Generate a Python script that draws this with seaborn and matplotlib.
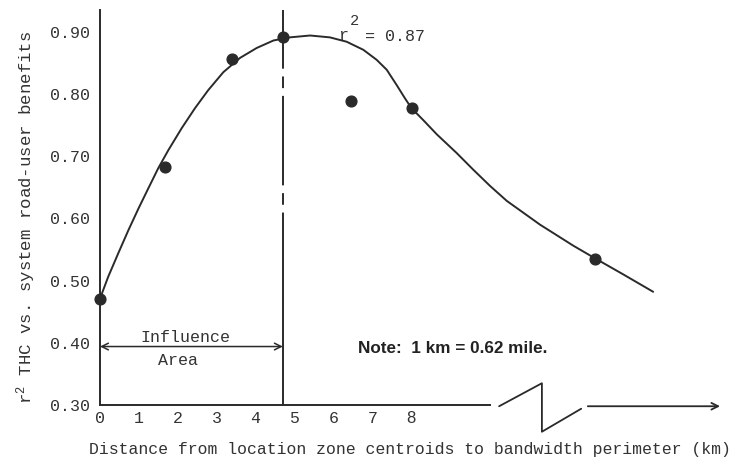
import numpy as np
import pandas as pd
import matplotlib
matplotlib.use('Agg')
import matplotlib.pyplot as plt
import seaborn as sns

# observed points (km, r^2)
dist_km = [0.0, 1.67, 3.40, 4.70, 6.45, 8.01, 12.72]
r2_obs = [0.470, 0.682, 0.857, 0.891, 0.789, 0.777, 0.534]

# fitted curve
curve_km = [0.0, 0.21, 0.47, 0.73, 0.99, 1.24, 1.50, 1.76, 2.10, 2.44, 2.78,
            3.17, 3.60, 4.03, 4.46, 4.88, 5.40, 5.91, 6.34, 6.77, 7.11, 7.37,
            7.63, 7.84, 8.01, 8.31, 8.66, 9.17, 9.60, 10.03, 10.46, 11.31,
            12.17, 12.72, 13.45, 14.22]
curve_r2 = [0.471, 0.506, 0.544, 0.581, 0.616, 0.648, 0.681, 0.710, 0.745,
            0.777, 0.806, 0.835, 0.858, 0.874, 0.886, 0.891, 0.894, 0.891,
            0.884, 0.871, 0.855, 0.839, 0.814, 0.793, 0.777, 0.758, 0.735,
            0.705, 0.678, 0.652, 0.628, 0.590, 0.556, 0.536, 0.510, 0.482]

influence_km = 4.70
x_ticks = [0, 1, 2, 3, 4, 5, 6, 7, 8]
y_ticks = [0.30, 0.40, 0.50, 0.60, 0.70, 0.80, 0.90]

# axis break (zigzag) and the continuing arrow
axis_end_km = 10.03
break_x = [10.26, 11.36, 11.36, 12.37]
break_y = [0.298, 0.335, 0.257, 0.294]
arrow_x = [12.54, 15.94]

ink = '#2a2a2a'
txt = '#333333'
mono = 'Liberation Mono'

sns.set_style('white')
plt.rcParams['font.family'] = [mono, 'DejaVu Sans']
plt.rcParams['mathtext.fontset'] = 'custom'
plt.rcParams['mathtext.rm'] = mono

fig = plt.figure(figsize=(7.47, 4.59), dpi=100)
ax = fig.add_axes([100 / 747, 54 / 459, 630 / 747, 395 / 459])

obs = pd.DataFrame({'km': dist_km, 'r2': r2_obs})
fit = pd.DataFrame({'km': curve_km, 'r2': curve_r2})

sns.lineplot(data=fit, x='km', y='r2', color=ink, linewidth=1.4, sort=False, ax=ax)
sns.scatterplot(data=obs, x='km', y='r2', color=ink, s=60, edgecolor=ink,
                linewidth=1, ax=ax, zorder=5, clip_on=False)

ax.set_xlim(0, 630 / 38.9)
ax.set_ylim(0.30, 0.935)

# influence boundary: solid, dash-dot, solid
ax.plot([influence_km, influence_km], [0.875, 0.935], color=ink, lw=1.4)
ax.plot([influence_km, influence_km], [0.465, 0.875], color=ink, lw=1.4,
        dashes=(46, 4, 6, 4))
ax.plot([influence_km, influence_km], [0.30, 0.465], color=ink, lw=1.4)

ax.annotate('', xy=(0, 0.394), xytext=(influence_km, 0.394),
            arrowprops=dict(arrowstyle='<->', color=ink, lw=1.1,
                            shrinkA=0, shrinkB=0, mutation_scale=12))
ax.text(2.19, 0.396, 'Influence', ha='center', va='bottom', fontsize=12, color=txt)
ax.text(2.0, 0.371, 'Area', ha='center', va='center', fontsize=12, color=txt)

ax.text(6.12, 0.8868, 'r', ha='left', va='baseline', fontsize=12, color=txt)
ax.text(6.43, 0.911, '2', ha='left', va='baseline', fontsize=11, color=txt)
ax.text(6.81, 0.885, '= 0.87', ha='left', va='baseline', fontsize=12, color=txt)

ax.text(6.63, 0.3916, 'Note:  1 km = 0.62 mile.', ha='left', va='center',
        fontsize=12.3, fontweight='bold', family=['Liberation Sans', 'DejaVu Sans'],
        color='#222222')

# spines
for side in ['top', 'right']:
    ax.spines[side].set_visible(False)
for side in ['left', 'bottom']:
    ax.spines[side].set_color(ink)
    ax.spines[side].set_linewidth(1.4)
ax.spines['bottom'].set_bounds(0, axis_end_km)

ax.plot(break_x, break_y, color=ink, lw=1.3, clip_on=False)
ax.annotate('', xy=(arrow_x[1], 0.298), xytext=(arrow_x[0], 0.298),
            annotation_clip=False,
            arrowprops=dict(arrowstyle='->', color=ink, lw=1.3,
                            shrinkA=0, shrinkB=0, mutation_scale=12))

ax.set_xticks(x_ticks)
ax.set_yticks(y_ticks)
ax.set_yticklabels([f'{v:.2f}' for v in y_ticks])
ax.tick_params(axis='both', direction='out', length=3.6, width=1.1, colors=ink,
               labelcolor=txt, labelsize=12)
ax.tick_params(axis='x', pad=0.8)
ax.tick_params(axis='y', pad=3.5)
ax.get_xticklabels()[8].set_family(['Liberation Sans', 'DejaVu Sans'])

ax.set_xlabel('Distance from location zone centroids to bandwidth perimeter (km)',
              fontsize=11.9, color=txt)
ax.xaxis.set_label_coords(0.492, -0.094)
ax.set_ylabel(r'$\mathregular{r^2}$ THC vs. system road-user benefits',
              fontsize=12.5, color=txt)
ax.yaxis.set_label_coords(-0.098, 0.476)

fig.savefig('out.png', dpi=100)
